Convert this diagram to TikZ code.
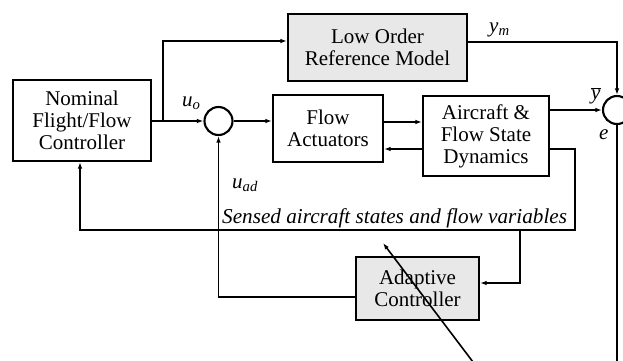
\documentclass[tikz,border=0pt]{standalone}
\usepackage{fontspec}
\setmainfont{Liberation Serif}
\usetikzlibrary{arrows.meta}
\begin{document}
\begin{tikzpicture}[x=1pt,y=-1pt,
  blk/.style={draw,line width=2.1pt,inner sep=0pt,align=center,font=\fontsize{21}{22}\selectfont},
  shaded/.style={fill=black!9},
  sumj/.style={draw,circle,line width=2.1pt,minimum size=28pt,inner sep=0pt},
  conn/.style={line width=1.5pt,-{Latex[length=6.5pt,width=4.5pt]}},
  wire/.style={line width=1.5pt},
  lbl/.style={inner sep=0pt,font=\fontsize{21}{22}\selectfont\itshape}]
\useasboundingbox (0,0) rectangle (623,360);
\clip (0,0) rectangle (623,360);
% blocks
\node[blk,minimum width=138pt,minimum height=81pt] (nom) at (82,120.5) {Nominal\\Flight/Flow\\Controller};
\node[blk,shaded,minimum width=179pt,minimum height=67pt] (lorm) at (377.5,47.5) {Low Order\\Reference Model};
\node[blk,minimum width=110pt,minimum height=67pt] (fa) at (328,128.5) {Flow\\Actuators};
\node[blk,minimum width=126pt,minimum height=80pt] (ac) at (486,136) {Aircraft \&\\Flow State\\Dynamics};
\node[blk,shaded,minimum width=123pt,minimum height=63pt] (adc) at (417.5,288.5) {Adaptive\\Controller};
\node[sumj] (s1) at (218.5,121) {};
\node[sumj] (s2) at (617,110) {};
% coordinates
\coordinate (br) at (163,121);
\coordinate (tp) at (163,41);
\coordinate (ymc) at (617,42);
\coordinate (acr1) at (575,149);
\coordinate (acr2) at (575,230);
\coordinate (sl) at (80,230);
\coordinate (sb) at (520,230);
\coordinate (sb2) at (520,283);
\coordinate (adl) at (218.5,297);
\coordinate (ebot) at (617,362);
\coordinate (pa) at (473,362);
\coordinate (pb) at (383,243);
\coordinate (lv) at (0,122);
% connectors
\draw[conn] (nom.east |- s1) -- (s1.west);
\draw[conn] (br) -- (tp) -- (tp -| lorm.west);
\draw[conn] (s1.east) -- (s1 -| fa.west);
\draw[conn] (fa.east |- lv) -- (ac.west |- lv);
\draw[conn] (ac.west |- acr1) -- (fa.east |- acr1);
\draw[conn] (ac.east |- s2) -- (s2.west);
\draw[conn] (lorm.east |- ymc) -- (ymc) -- (s2.north);
\draw[wire] (s2.south) -- (ebot);
\draw[conn] (ac.east |- acr1) -- (acr1) -- (acr2) -- (sl) -- (sl |- nom.south);
\draw[conn] (sb) -- (sb2) -- (adc.east |- sb2);
\draw[conn] (adc.west |- adl) -- (adl) -- (s1.south);
\draw[line width=1.6pt,-{Latex[length=6.5pt,width=4.5pt]}] (pa) -- (pb);
% labels
\node[lbl,anchor=base west,font=\fontsize{21.2}{22}\selectfont\itshape] (sensed) at (222,223) {Sensed aircraft states and flow variables};
\node[lbl,anchor=base west] (uo) at (182,106) {u\textsubscript{o}};
\node[lbl,anchor=base west] (uad) at (232,188) {u\textsubscript{ad}};
\node[lbl,anchor=base west] (ym) at (489,32) {y\textsubscript{m}};
\node[lbl,anchor=base west] (yb) at (591,99) {$\overline{\mbox{\itshape y}}$};
\node[lbl,anchor=base west] (el) at (599,139) {e};
\end{tikzpicture}
\end{document}
